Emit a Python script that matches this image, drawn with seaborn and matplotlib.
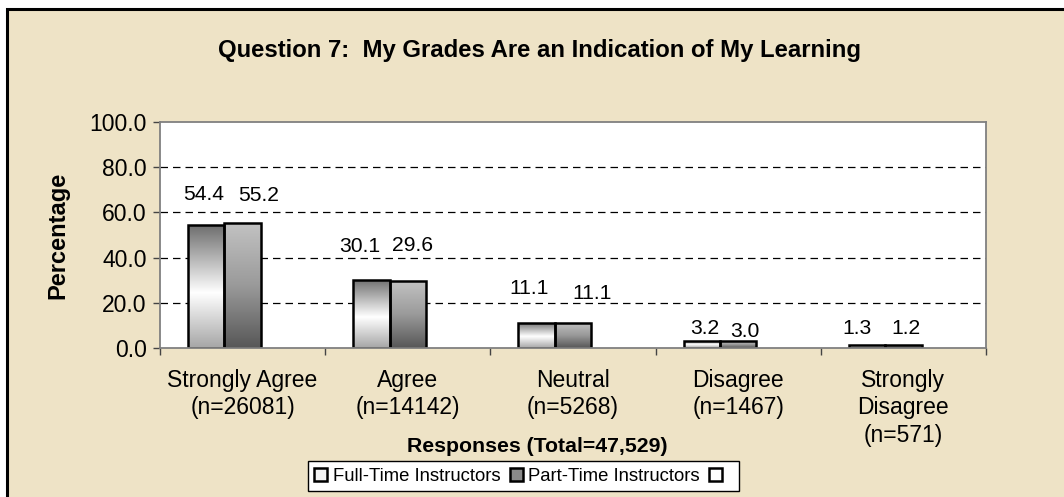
import numpy as np
import pandas as pd
import seaborn as sns
import matplotlib.pyplot as plt
from matplotlib.colors import LinearSegmentedColormap
from matplotlib.patches import Patch, Rectangle
from matplotlib.ticker import FormatStrFormatter, FixedLocator

# data
categories = ["Strongly Agree\n(n=26081)", "Agree\n(n=14142)", "Neutral\n(n=5268)",
              "Disagree\n(n=1467)", "Strongly\nDisagree\n(n=571)"]
full_time = [54.4, 30.1, 11.1, 3.2, 1.3]
part_time = [55.2, 29.6, 11.1, 3.0, 1.2]
series = ["Full-Time Instructors", "Part-Time Instructors", " "]

df = pd.DataFrame({
    "Response": categories * 3,
    "Percent": full_time + part_time + [np.nan] * len(categories),
    "Group": [series[0]] * 5 + [series[1]] * 5 + [series[2]] * 5,
})

# label offsets (px) to mimic the staggered excel placement
ft_offsets = [(-2.5, 31), (-11.5, 33), (-7.5, 34), (2.5, 12), (-10, 17)]
pt_offsets = [(16.5, 28), (4.5, 36), (19, 29), (6.5, 10), (3, 17)]

sns.set_theme(style="white")
plt.rcParams["font.family"] = ["Liberation Sans", "DejaVu Sans"]
for k in ["text.color", "axes.labelcolor", "xtick.color", "ytick.color"]:
    plt.rcParams[k] = "black"

W, H = 1064, 497
fig = plt.figure(figsize=(W / 100, H / 100), dpi=100, facecolor="white")
# parchment background with black top/left border
fig.add_artist(Rectangle((7 / W, -0.05), 1.1, 1 - 9 / H + 0.05, transform=fig.transFigure,
                         facecolor="#EEE3C6", edgecolor="black", linewidth=2.2, zorder=-10))

ax = fig.add_axes([160 / W, 1 - 348 / H, 826 / W, 226 / H])
ax.set_facecolor("white")

sns.barplot(data=df, x="Response", y="Percent", hue="Group", hue_order=series,
            width=0.66, ax=ax, legend=False, edgecolor="black", linewidth=1.8,
            err_kws={"linewidth": 0})

ft_stops = [(0, "#6e6e6e"), (0.55, "#ffffff"), (1, "#a6a6a6")]
pt_stops = [(0, "#c2c2c2"), (0.5, "#9a9a9a"), (1, "#575757")]


def fill_gradient(patch, stops):
    x, y = patch.get_x(), patch.get_y()
    w, h = patch.get_width(), patch.get_height()
    if not np.isfinite(h) or h == 0:
        return
    cmap = LinearSegmentedColormap.from_list("g", stops)
    grad = np.linspace(0, 1, 256).reshape(-1, 1)
    im = ax.imshow(grad, cmap=cmap, extent=(x, x + w, y, y + h), origin="upper",
                   aspect="auto", zorder=0.95, interpolation="bilinear")
    im.set_clip_path(patch)


conts = ax.containers
for cont, stops in [(conts[0], ft_stops), (conts[1], pt_stops)]:
    for patch in cont.patches:
        patch.set_facecolor("none")
        patch.set_zorder(1)
        fill_gradient(patch, stops)

for cont, offs in [(conts[0], ft_offsets), (conts[1], pt_offsets)]:
    anns = ax.bar_label(cont, fmt="%.1f", fontsize=15.2)
    for ann, (dx, dy) in zip(anns, offs):
        ann.xyann = (dx * 0.72, dy * 0.72)
        ann.set_va("center")

ax.set_xlim(-0.5, 4.5)
ax.set_ylim(0, 100)
ax.set_yticks(np.arange(0, 101, 20))
ax.yaxis.set_major_formatter(FormatStrFormatter("%.1f"))
ax.yaxis.grid(True, linestyle=(0, (6, 4)), color="black", linewidth=0.9)
ax.set_axisbelow(True)
gl = ax.yaxis.get_gridlines()
gl[0].set_visible(False)
gl[-1].set_visible(False)

ax.xaxis.set_minor_locator(FixedLocator(np.arange(-0.5, 5, 1)))
ax.tick_params(axis="x", which="major", length=0, pad=15, labelsize=16.5)
ax.tick_params(axis="x", which="minor", length=5, width=1, color="#444444", direction="out", bottom=True)
ax.tick_params(axis="y", length=5, width=1, color="#444444", direction="out", left=True,
               pad=4.5, labelsize=16.5)
for lab in ax.get_xticklabels():
    lab.set_linespacing(1.25)

for s in ax.spines.values():
    s.set_color("#808080")
    s.set_linewidth(1.3)

ax.set_xlabel("")
ax.set_ylabel("")
fig.text(539 / W, 1 - 50 / H, "Question 7:  My Grades Are an Indication of My Learning",
         ha="center", va="center", fontsize=17.2, fontweight="bold")
fig.text(537 / W, 1 - 447 / H, "Responses (Total=47,529)", ha="center", va="center",
         fontsize=15.3, fontweight="bold")
fig.text(58 / W, 1 - 235 / H, "Percentage", ha="center", va="center", rotation=90,
         fontsize=17, fontweight="bold")

handles = [Patch(facecolor="#f4f4f4", edgecolor="black", linewidth=1.8),
           Patch(facecolor="#8a8a8a", edgecolor="black", linewidth=1.8),
           Patch(facecolor="white", edgecolor="black", linewidth=1.8)]
leg = fig.legend(handles, series, loc="lower left", bbox_to_anchor=(308 / W, 1 - 491 / H),
                 ncol=3, fontsize=13.3, frameon=True, fancybox=False, framealpha=1,
                 edgecolor="black", handlelength=0.7, handleheight=0.7, handletextpad=0.3,
                 columnspacing=0.5, borderpad=0.35, borderaxespad=0)
leg.get_frame().set_linewidth(1.0)

fig.savefig("out.png", dpi=100, facecolor=fig.get_facecolor())
